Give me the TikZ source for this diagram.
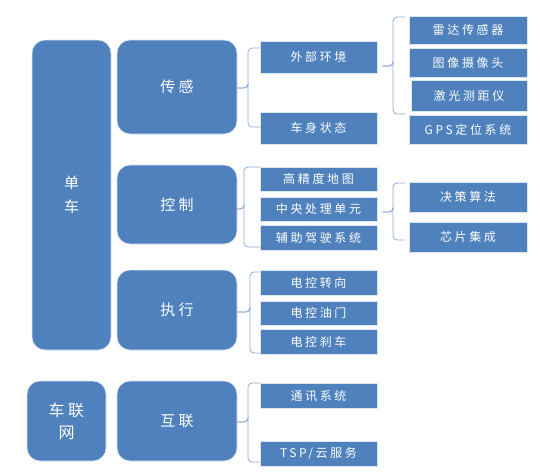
\documentclass[tikz,border=0pt]{standalone}
\usepackage{fontspec}
\setmainfont{Noto Sans CJK SC}
\newfontfamily\cjk[LetterSpace=22]{Noto Sans CJK SC}
\definecolor{boxblue}{HTML}{4F81BD}
\definecolor{brcblue}{HTML}{8EAADB}
% brace from parent #1 to arm ends #2 and #3, spine shifted by #4
\newcommand\brc[4]{%
  \draw[brcline] (#2) -| ([xshift=#4]#1) |- (#1);
  \draw[brcline] (#3) -| ([xshift=#4]#1) |- (#1);}
\begin{document}
\begin{tikzpicture}[x=1pt,y=-1pt,%
    every node/.style={inner sep=0pt,outer sep=0pt,text=white,font=\cjk},
    bigbox/.style={draw=white!80!boxblue,line width=0.6pt,fill=boxblue,
      rounded corners=13pt,align=center,font=\cjk\fontsize{15}{24}\selectfont},
    smallbox/.style={draw=white!80!boxblue,line width=0.5pt,fill=boxblue,
      minimum width=117pt,font=\cjk\fontsize{12}{14}\selectfont},
    brcline/.style={draw=brcblue,line width=0.8pt,rounded corners=4pt}
    ]
    \useasboundingbox (0,0) rectangle (540,472);
    % first column
    \node[bigbox,minimum width=79pt,minimum height=310pt] at(71.5,195)(dc){单\\车};
    \node[bigbox,minimum width=79pt,minimum height=80pt,
      font=\cjk\fontsize{16}{22}\selectfont] at(66.5,421)(clw){车联\\网};
    % second column
    \node[bigbox,minimum width=120pt,minimum height=94pt] at(177,87)(cg){传感};
    \node[bigbox,minimum width=120pt,minimum height=79pt] at(177,204.5)(kz){控制};
    \node[bigbox,minimum width=120pt,minimum height=80pt] at(177,310)(zx){执行};
    \node[bigbox,minimum width=120pt,minimum height=80pt] at(177,421)(hl){互联};
    % third column
    \node[smallbox,minimum height=32pt] at(318.5,57)(wb){外部环境};
    \node[smallbox,minimum height=32pt] at(318.5,128)(cs){车身状态};
    \node[smallbox,minimum height=24pt] at(318.5,179)(gj){高精度地图};
    \node[smallbox,minimum height=24pt] at(318.5,209)(zy){中央处理单元};
    \node[smallbox,minimum height=25pt] at(318.5,237.5)(fz){辅助驾驶系统};
    \node[smallbox,minimum height=25pt] at(318.5,282.5)(zxx){电控转向};
    \node[smallbox,minimum height=24pt] at(318.5,313)(ym){电控油门};
    \node[smallbox,minimum height=25pt] at(318.5,341.5)(sc){电控刹车};
    \node[smallbox,minimum height=25pt] at(318.5,395.5)(tx){通讯系统};
    \node[smallbox,minimum height=25pt] at(318.5,453.5)(tsp){TSP/云服务};
    % fourth column
    \node[smallbox,minimum width=118pt,minimum height=28pt] at(468,30)(ld){雷达传感器};
    \node[smallbox,minimum width=118pt,minimum height=29pt] at(468,62.5)(tu){图像摄像头};
    \node[smallbox,minimum width=116pt,minimum height=31pt] at(469,95.5)(jg){激光测距仪};
    \node[smallbox,minimum width=118pt,minimum height=29pt] at(468,129.5)(gps){GPS定位系统};
    \node[smallbox,minimum width=118pt,minimum height=30pt] at(468,197)(jc){决策算法};
    \node[smallbox,minimum width=118pt,minimum height=30pt] at(468,237)(xp){芯片集成};
    % braces
    \coordinate (cgt) at(cg.east|-0,88);
    \coordinate (wbt) at([xshift=5pt]wb.east|-0,66);
    \coordinate (kzt) at(kz.east|-0,209);
    \coordinate (zyt) at([xshift=5pt]zy.east|-0,212);
    \coordinate (zxt) at(zx.east|-0,312);
    \coordinate (hlt) at(hl.east|-0,422);
    \brc{cgt}{wb.west|-0,48}{cs.west|-0,127}{11pt}
    \brc{wbt}{405,17}{405,114}{11pt}
    \brc{kzt}{gj.west|-0,167}{fz.west|-0,247}{7pt}
    \brc{zyt}{405,183}{405,240}{11pt}
    \brc{zxt}{zxx.west|-0,272}{sc.west|-0,353}{13pt}
    \brc{hlt}{tx.west|-0,383}{tsp.west|-0,462}{11pt}
  \end{tikzpicture}
\end{document}
